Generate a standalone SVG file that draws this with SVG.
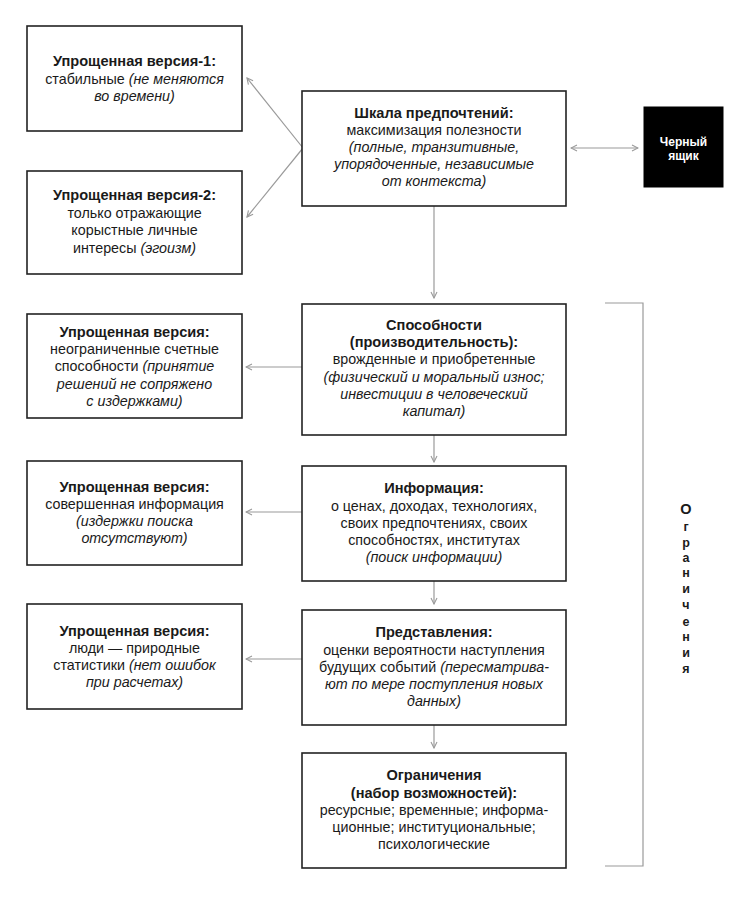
<svg xmlns="http://www.w3.org/2000/svg" width="750" height="900" viewBox="0 0 750 900">
<style>
.box{fill:#fff;stroke:#222;stroke-width:1.6}
.blk{fill:#000;stroke:#000}
text{font-family:"Liberation Sans",Arial,sans-serif;font-size:14.3px;fill:#1a1a1a;text-anchor:middle}
.b{font-weight:bold;font-size:14.6px}
.i{font-style:italic}
.w{fill:#fff;font-weight:bold;font-size:12px}
.c{stroke:#9a9a9a;stroke-width:1.2;fill:none}
.v{font-weight:bold;font-size:12.5px}
</style>
<defs>
<marker id="ah" viewBox="0 0 8 8" refX="7" refY="4" markerWidth="8" markerHeight="8" markerUnits="userSpaceOnUse" orient="auto-start-reverse">
<path d="M1,1 L7,4 L1,7" fill="none" stroke="#9a9a9a" stroke-width="1.1"/>
</marker>
</defs>
<g id="connectors">
<line class="c" x1="303" y1="148" x2="247" y2="78" marker-end="url(#ah)"/>
<line class="c" x1="303" y1="148" x2="247" y2="217" marker-end="url(#ah)"/>
<line class="c" x1="571" y1="148" x2="638" y2="148" marker-start="url(#ah)" marker-end="url(#ah)"/>
<line class="c" x1="434" y1="206" x2="434" y2="298" marker-end="url(#ah)"/>
<line class="c" x1="302" y1="367" x2="246" y2="367" marker-end="url(#ah)"/>
<line class="c" x1="434" y1="435" x2="434" y2="462" marker-end="url(#ah)"/>
<line class="c" x1="302" y1="512" x2="246" y2="512" marker-end="url(#ah)"/>
<line class="c" x1="434" y1="581" x2="434" y2="604" marker-end="url(#ah)"/>
<line class="c" x1="302" y1="659" x2="246" y2="659" marker-end="url(#ah)"/>
<line class="c" x1="434" y1="725" x2="434" y2="748" marker-end="url(#ah)"/>
<path class="c" d="M605,303 H643 V866 H605"/>
</g>
<g id="v1">
<rect class="box" x="27" y="26" width="215" height="105"/>
<text x="134.5" y="66" class="b">Упрощенная версия-1:</text>
<text x="134.5" y="84">стабильные <tspan class="i">(не меняются</tspan></text>
<text x="134.5" y="101" class="i">во времени)</text>
</g>
<g id="v2">
<rect class="box" x="27" y="171" width="215" height="103"/>
<text x="134.5" y="200" class="b">Упрощенная версия-2:</text>
<text x="134.5" y="218">только отражающие</text>
<text x="134.5" y="235">корыстные личные</text>
<text x="134.5" y="253">интересы <tspan class="i">(эгоизм)</tspan></text>
</g>
<g id="pref">
<rect class="box" x="302" y="91" width="264" height="115"/>
<text x="434" y="118" class="b">Шкала предпочтений:</text>
<text x="434" y="135">максимизация полезности</text>
<text x="434" y="152" class="i">(полные, транзитивные,</text>
<text x="434" y="169" class="i">упорядоченные, независимые</text>
<text x="434" y="186" class="i">от контекста)</text>
</g>
<g id="blackbox">
<rect class="blk" x="644" y="107" width="79" height="80"/>
<text x="683.5" y="146" class="w">Черный</text>
<text x="683.5" y="160" class="w">ящик</text>
</g>
<g id="simp3">
<rect class="box" x="27" y="314" width="215" height="104"/>
<text x="134.5" y="337" class="b">Упрощенная версия:</text>
<text x="134.5" y="354">неограниченные счетные</text>
<text x="134.5" y="371">способности <tspan class="i">(принятие</tspan></text>
<text x="134.5" y="389" class="i">решений не сопряжено</text>
<text x="134.5" y="406" class="i">с издержками)</text>
</g>
<g id="abil">
<rect class="box" x="302" y="304" width="264" height="131"/>
<text x="434" y="330" class="b">Способности</text>
<text x="434" y="347" class="b">(производительность):</text>
<text x="434" y="364">врожденные и приобретенные</text>
<text x="434" y="382" class="i">(физический и моральный износ;</text>
<text x="434" y="399" class="i">инвестиции в человеческий</text>
<text x="434" y="416" class="i">капитал)</text>
</g>
<g id="simp4">
<rect class="box" x="27" y="461" width="215" height="104"/>
<text x="134.5" y="492" class="b">Упрощенная версия:</text>
<text x="134.5" y="509">совершенная информация</text>
<text x="134.5" y="526" class="i">(издержки поиска</text>
<text x="134.5" y="543" class="i">отсутствуют)</text>
</g>
<g id="info">
<rect class="box" x="302" y="466" width="264" height="115"/>
<text x="434" y="493" class="b">Информация:</text>
<text x="434" y="511">о ценах, доходах, технологиях,</text>
<text x="434" y="528">своих предпочтениях, своих</text>
<text x="434" y="545">способностях, институтах</text>
<text x="434" y="562" class="i">(поиск информации)</text>
</g>
<g id="simp5">
<rect class="box" x="27" y="604" width="215" height="105"/>
<text x="134.5" y="636" class="b">Упрощенная версия:</text>
<text x="134.5" y="653">люди — природные</text>
<text x="134.5" y="670">статистики <tspan class="i">(нет ошибок</tspan></text>
<text x="134.5" y="687" class="i">при расчетах)</text>
</g>
<g id="repr">
<rect class="box" x="302" y="610" width="264" height="115"/>
<text x="434" y="637" class="b">Представления:</text>
<text x="434" y="655">оценки вероятности наступления</text>
<text x="434" y="672">будущих событий <tspan class="i">(пересматрива-</tspan></text>
<text x="434" y="689" class="i">ют по мере поступления новых</text>
<text x="434" y="706" class="i">данных)</text>
</g>
<g id="constr">
<rect class="box" x="302" y="753" width="264" height="115"/>
<text x="434" y="780" class="b">Ограничения</text>
<text x="434" y="798" class="b">(набор возможностей):</text>
<text x="434" y="815">ресурсные; временные; информа-</text>
<text x="434" y="832">ционные; институциональные;</text>
<text x="434" y="849">психологические</text>
</g>
<g id="label">
<text x="686" y="514" class="v" style="font-size:14.5px">О</text>
<text x="686" y="531" class="v">г</text>
<text x="686" y="547" class="v">р</text>
<text x="686" y="562" class="v">а</text>
<text x="686" y="577" class="v">н</text>
<text x="686" y="593" class="v">и</text>
<text x="686" y="609" class="v">ч</text>
<text x="686" y="626" class="v">е</text>
<text x="686" y="641" class="v">н</text>
<text x="686" y="657" class="v">и</text>
<text x="686" y="673" class="v">я</text>
</g>
</svg>
